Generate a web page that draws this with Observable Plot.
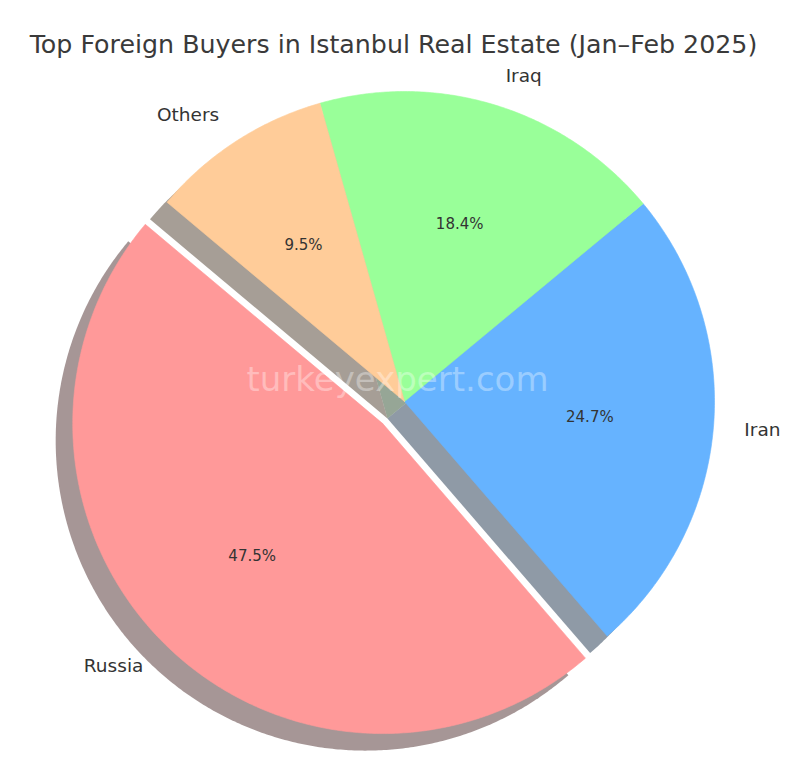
<!DOCTYPE html>
<html><head><meta charset="utf-8">
<script src="https://cdn.jsdelivr.net/npm/d3@7"></script>
<script src="https://cdn.jsdelivr.net/npm/@observablehq/plot@0.6"></script>
<style>
body{margin:0;background:#fff;font-family:"DejaVu Sans",sans-serif;}
#wrap{position:relative;width:800px;height:760px;}
#title{position:absolute;top:32px;left:0;width:787px;text-align:center;font-size:25.3px;line-height:25px;color:#3a3a3a;white-space:nowrap;}
#chart{position:absolute;top:70px;left:0;}
</style></head><body>
<div id="wrap"><div id="title">Top Foreign Buyers in Istanbul Real Estate (Jan–Feb 2025)</div><div id="chart"></div></div>
<script>
const labels = ["Russia", "Iran", "Iraq", "Others"];
const shares = [47.5, 24.7, 18.4, 9.5];
const colors = ["#ff9999", "#66b3ff", "#99ff99", "#ffcc99"];
const explode = [0.1, 0, 0, 0];
const startAngle = 140;
const watermark = "turkeyexpert.com";

const total = d3.sum(shares);
let acc = startAngle;
const slices = labels.map((label, i) => {
  const span = shares[i] / total * 360;
  const s = {label, value: shares[i], color: colors[i], a0: acc, a1: acc + span, mid: acc + span / 2, explode: explode[i]};
  acc += span;
  return s;
});
const rad = d => d * Math.PI / 180;
const shadowShift = -0.055;
function wedge(s, shift) {
  const cx = s.explode * Math.cos(rad(s.mid)) + shift;
  const cy = s.explode * Math.sin(rad(s.mid)) + shift;
  const pts = [{x: cx, y: cy}];
  const n = Math.ceil((s.a1 - s.a0) * 2);
  for (let k = 0; k <= n; k++) {
    const t = rad(s.a0 + (s.a1 - s.a0) * k / n);
    pts.push({x: cx + Math.cos(t), y: cy + Math.sin(t)});
  }
  pts.push({x: cx, y: cy});
  return pts;
}
function shadowColor(c) {
  const r = d3.rgb(c);
  return d3.rgb(r.r * 0.3, r.g * 0.3, r.b * 0.3).formatHex();
}
const cxOf = (s, d) => s.explode * Math.cos(rad(s.mid)) + d * Math.cos(rad(s.mid));
const cyOf = (s, d) => s.explode * Math.sin(rad(s.mid)) + d * Math.sin(rad(s.mid));

const marks = [];
slices.forEach(s => marks.push(Plot.line(wedge(s, shadowShift), {x: "x", y: "y", fill: shadowColor(s.color), fillOpacity: 0.5, stroke: "none"})));
slices.forEach(s => marks.push(Plot.line(wedge(s, 0), {x: "x", y: "y", fill: s.color, stroke: s.color, strokeWidth: 0.6})));
marks.push(Plot.text([watermark], {frameAnchor: "middle", text: d => d, dx: -3, dy: -35, fill: "white", fillOpacity: 0.35, fontSize: 34}));
marks.push(Plot.text(slices.filter(s => Math.cos(rad(s.mid)) >= 0), {x: s => cxOf(s, 1.1), y: s => cyOf(s, 1.1), text: "label", textAnchor: "start", fontSize: 18.5, fill: "#333"}));
marks.push(Plot.text(slices.filter(s => Math.cos(rad(s.mid)) < 0), {x: s => cxOf(s, 1.1), y: s => cyOf(s, 1.1), text: "label", textAnchor: "end", fontSize: 18.5, fill: "#333"}));
marks.push(Plot.text(slices, {x: s => cxOf(s, 0.6), y: s => cyOf(s, 0.6), text: s => (s.value / total * 100).toFixed(1) + "%", fontSize: 15, fill: "#333"}));

const chart = Plot.plot({
  width: 800, height: 690, margin: 0,
  x: {domain: [-404 / 310, 396 / 310], axis: null},
  y: {domain: [(401 - 760) / 310, (401 - 70) / 310], axis: null},
  style: {fontFamily: "'DejaVu Sans', sans-serif", background: "white", overflow: "visible"},
  marks
});
document.getElementById("chart").appendChild(chart);
</script>
</body></html>
